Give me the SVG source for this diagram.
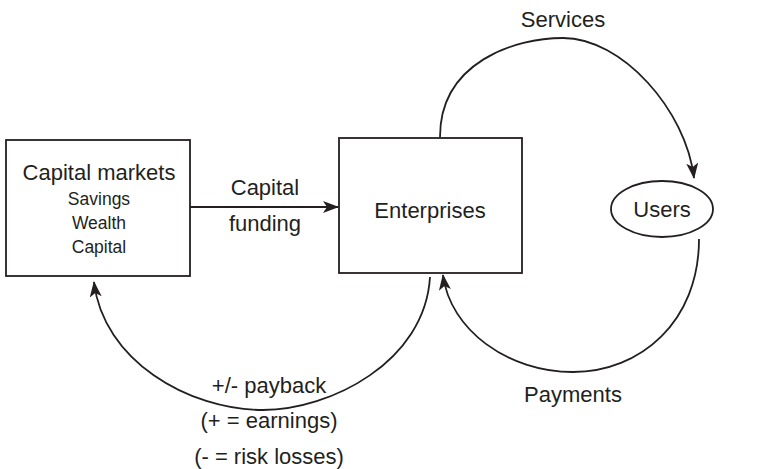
<svg xmlns="http://www.w3.org/2000/svg" width="780" height="469" viewBox="0 0 780 469">
<style>
.box{fill:#fff;stroke:#231f20;stroke-width:1.8}
.ln{fill:none;stroke:#231f20;stroke-width:1.8}
text{font-family:"Liberation Sans",Arial,sans-serif;fill:#231f20;text-anchor:middle}
.big{font-size:22px}
.sm{font-size:17.5px}
</style>
<defs>
<marker id="arr" viewBox="0 0 16 12" refX="15" refY="6" markerWidth="16" markerHeight="12" markerUnits="userSpaceOnUse" orient="auto">
<path d="M0,0 L16,6 L0,12 L4,6 z" fill="#231f20"/>
</marker>
</defs>
<g id="connectors">
<path class="ln" d="M190,207 L338,207" marker-end="url(#arr)"/>
<path class="ln" d="M440,137 C440,62 515,38 563,38 C622,38 686,110 694,178" marker-end="url(#arr)"/>
<path class="ln" d="M699,239 C699,322 640,372 573,372 C508,372 450,330 443,275" marker-end="url(#arr)"/>
<path class="ln" d="M430,277 C425,362 330,410 263,410 C188,410 103,360 94,282" marker-end="url(#arr)"/>
<text class="big" x="265" y="195">Capital</text>
<text class="big" x="265" y="231">funding</text>
<text class="big" x="563" y="27">Services</text>
<text class="big" x="573" y="402">Payments</text>
<text class="big" x="269" y="393">+/- payback</text>
<text class="big" x="269" y="428">(+ = earnings)</text>
<text class="big" x="269" y="464">(- = risk losses)</text>
</g>
<g id="capital-markets">
<rect class="box" x="6" y="140" width="184" height="136"/>
<text class="big" x="99" y="180">Capital markets</text>
<text class="sm" x="99" y="205">Savings</text>
<text class="sm" x="99" y="229">Wealth</text>
<text class="sm" x="99" y="253">Capital</text>
</g>
<g id="enterprises">
<rect class="box" x="339" y="138" width="183" height="135"/>
<text class="big" x="430" y="218">Enterprises</text>
</g>
<g id="users">
<ellipse class="box" cx="662" cy="209" rx="51" ry="28"/>
<text class="big" x="662" y="217">Users</text>
</g>
</svg>
